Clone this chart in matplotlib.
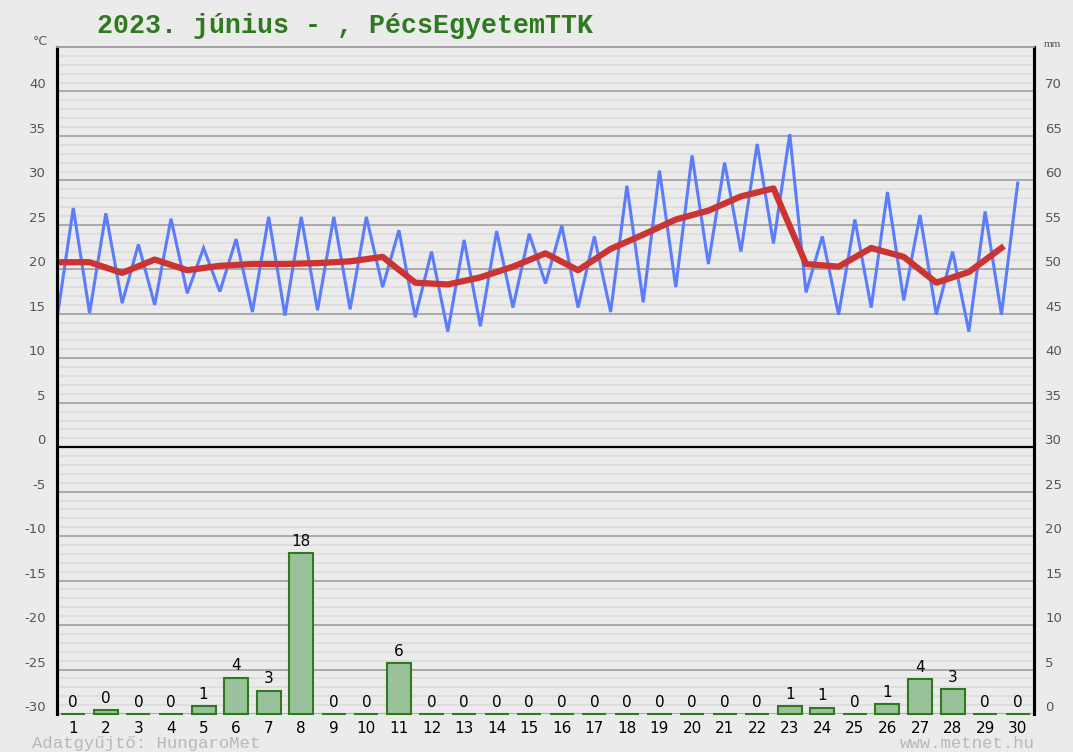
import matplotlib
matplotlib.use("Agg")
import numpy as np
from matplotlib import pyplot as plt

# daily data, June 2023
days = list(range(1, 31))
tmin = [14.4, 15.1, 16.2, 16.0, 17.3, 17.5, 15.2, 14.8, 15.4, 15.5,
        18.0, 14.6, 13.0, 13.6, 15.7, 18.4, 15.7, 15.2, 16.3, 18.0,
        20.6, 22.0, 22.9, 17.4, 14.9, 15.7, 16.5, 14.9, 13.0, 14.9]
tmax = [26.9, 26.3, 22.8, 25.7, 22.4, 23.4, 25.9, 25.9, 25.9, 25.9,
        24.4, 22.0, 23.3, 24.3, 24.0, 24.9, 23.7, 29.4, 31.1, 32.8,
        32.0, 34.1, 35.2, 23.7, 25.6, 28.7, 26.1, 22.0, 26.5, 29.7]
tmean = [20.8, 20.8, 19.6, 21.1, 19.9, 20.4, 20.6, 20.6, 20.7, 20.9,
         21.4, 18.5, 18.3, 19.1, 20.3, 21.8, 19.9, 22.3, 23.9, 25.6,
         26.6, 28.2, 29.1, 20.6, 20.3, 22.4, 21.4, 18.5, 19.7, 22.4]
precip = [0, 0.4, 0, 0, 0.9, 4.1, 2.6, 18.1, 0, 0,
          5.7, 0, 0, 0, 0, 0, 0, 0, 0, 0,
          0, 0, 0.9, 0.7, 0, 1.1, 3.9, 2.8, 0, 0]

title = "2023. június - , PécsEgyetemTTK"

bg = "#ebebeb"
fig = plt.figure(figsize=(10.73, 7.52), dpi=100, facecolor=bg)
ax = fig.add_axes([57 / 1073, 1 - 714 / 752, (1034 - 57) / 1073, (714 - 47) / 752])
ax.set_facecolor(bg)

# temperature axis
ax.set_xlim(0.5, 30.5)
ax.set_ylim(-30, 45)
for v in range(-30, 46):
    if v == 0:
        continue
    if v % 5 == 0:
        ax.axhline(v, color="#a3a3a3", lw=1.3, zorder=1)
    else:
        ax.axhline(v, color="#dcdcdc", lw=1.2, zorder=0.5)
ax.axhline(0, color="black", lw=1.6, zorder=1.5)

# zigzag: min at day start, max at day middle
d = np.array(days, dtype=float)
zx = np.empty(60)
zy = np.empty(60)
zx[0::2] = d - 0.5
zx[1::2] = d
zy[0::2] = tmin
zy[1::2] = tmax
ax.plot(zx, zy, color="#5b7cfb", lw=2.2, zorder=3, solid_joinstyle="miter")
ax.plot(d - 0.5, tmean, color="#cc3333", lw=4.5, zorder=4)

ax.set_yticks(range(-30, 45, 5))
ax.set_yticklabels([str(v) for v in range(-30, 45, 5)])
for lbl in ax.get_yticklabels():
    lbl.set_va("bottom")
ax.tick_params(axis="y", length=0, pad=8, labelsize=9.5, labelcolor="#555555")
ax.set_xticks(days)
ax.set_xticklabels([str(x) for x in days])
ax.tick_params(axis="x", length=0, pad=5, labelsize=11, labelcolor="black")

# precipitation axis
ax2 = ax.twinx()
ax2.set_ylim(0, 75)
bars = ax2.bar(d, precip, width=0.74, color="#99c29a", edgecolor="#2f7a1c", lw=1.5, zorder=2)
for b in bars:
    b.set_clip_on(False)
for x, p in zip(d, precip):
    ax2.text(x, p + 0.5, str(round(p)), ha="center", va="bottom", fontsize=11, color="black")
ax2.set_yticks(range(0, 71, 5))
ax2.set_yticklabels([str(v) for v in range(0, 71, 5)])
for lbl in ax2.get_yticklabels():
    lbl.set_va("bottom")
ax2.tick_params(axis="y", length=0, pad=8, labelsize=9.5, labelcolor="#555555")

for a in (ax, ax2):
    a.spines["left"].set_color("black")
    a.spines["left"].set_linewidth(2.2)
    a.spines["right"].set_color("black")
    a.spines["right"].set_linewidth(2.2)
    a.spines["top"].set_color("#a3a3a3")
    a.spines["top"].set_linewidth(1.3)
    a.spines["bottom"].set_visible(False)

fig.text(97 / 1073, 1 - 33 / 752, title, ha="left", va="baseline",
         family="Liberation Mono", weight="bold", fontsize=19.2, color="#2d7a1f")
fig.text(40 / 1073, 1 - 45 / 752, "°C", ha="center", va="baseline", fontsize=9, color="#555555")
fig.text(1052 / 1073, 1 - 47 / 752, "mm", ha="center", va="baseline", fontsize=8,
         family="Liberation Serif", color="#555555")
fig.text(32 / 1073, 1 - 748 / 752, "Adatgyűjtő: HungaroMet", ha="left", va="baseline",
         family="Liberation Mono", fontsize=12.5, color="#b8b8b8")
fig.text(1035 / 1073, 1 - 748 / 752, "www.metnet.hu", ha="right", va="baseline",
         family="Liberation Mono", fontsize=12.5, color="#b8b8b8")

fig.savefig("out.png", dpi=100, facecolor=bg)
